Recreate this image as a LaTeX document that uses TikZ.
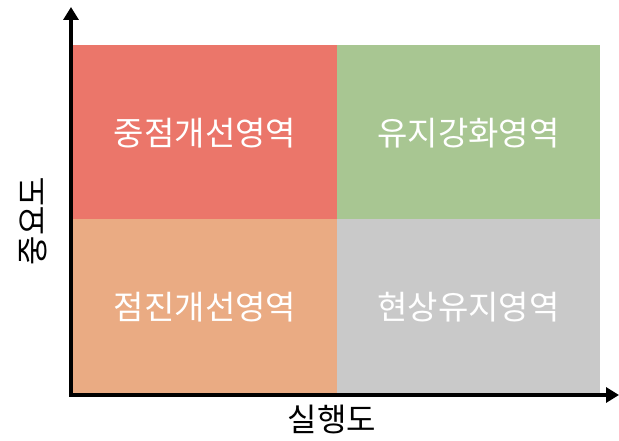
\documentclass[tikz,border=0pt]{standalone}
\usepackage{fontspec}
\newfontfamily\kr{Noto Sans CJK KR}
\usetikzlibrary{arrows.meta}
\definecolor{qred}{HTML}{EB766A}
\definecolor{qgreen}{HTML}{A8C692}
\definecolor{qorange}{HTML}{EAAB83}
\definecolor{qgray}{HTML}{C9C9C9}
\begin{document}
\begin{tikzpicture}[x=1pt,y=-1pt,
  quad/.style={draw=none,minimum width=264pt,minimum height=174pt,inner sep=0pt,anchor=north west,outer sep=0pt},
  qlabel/.style={text=white,font=\kr\fontsize{33}{36}\selectfont},
  axislabel/.style={text=black,font=\kr\fontsize{32}{36}\selectfont},
  axis/.style={line width=4pt,-{Triangle[length=13pt,width=15pt]}}]
\useasboundingbox (0,0) rectangle (619,441);
\node[quad,fill=qred] (q1) at (73,45) {};
\node[quad,fill=qgreen,minimum width=263pt] (q2) at (337,45) {};
\node[quad,fill=qorange] (q3) at (73,219) {};
\node[quad,fill=qgray,minimum width=263pt] (q4) at (337,219) {};
\node[qlabel] at ([yshift=-1pt]q1.center) {중점개선영역};
\node[qlabel] at ([yshift=-1pt]q2.center) {유지강화영역};
\node[qlabel] at ([yshift=-1pt]q3.center) {점진개선영역};
\node[qlabel] at ([yshift=-1pt]q4.center) {현상유지영역};
\coordinate (o) at (71,395);
\coordinate (ytop) at (71,7);
\coordinate (xend) at (619,395);
\draw[axis] ([yshift=2pt]o) -- (ytop);
\draw[axis] ([xshift=-2pt]o) -- (xend);
\node[axislabel] (xl) at (332,419) {실행도};
\node[axislabel,rotate=90] (yl) at (33,221) {중요도};
\end{tikzpicture}
\end{document}
